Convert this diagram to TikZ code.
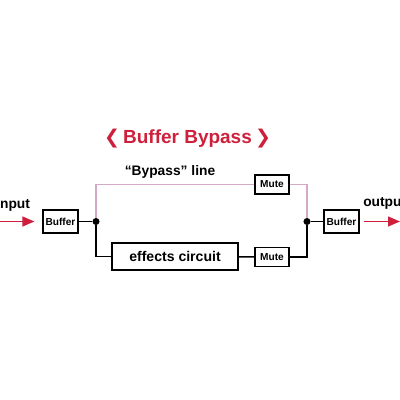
\documentclass[tikz,border=0pt]{standalone}
\usepackage{fontspec}
\setmainfont{Liberation Sans}
\newfontfamily\symfont{DejaVu Sans}
\usetikzlibrary{arrows.meta}
\definecolor{titlered}{RGB}{206,32,60}
\definecolor{bypasspink}{RGB}{214,168,200}
\tikzset{
dot/.style = {circle, fill, minimum size=#1,
              inner sep=0pt, outer sep=0pt},
dot/.default = 5pt % size of the junction dot
}
\tikzset{
box/.style = {rectangle, draw=black, line width=0.8pt, fill=white, inner sep=0pt,
              minimum width=#1, font=\bfseries\fontsize{7.2}{8}\selectfont},
box/.default = 24.9pt, % width of a buffer box
}
\tikzset{
tag/.style = {font=\bfseries\fontsize{9.8}{11}\selectfont},
wire/.style = {draw=black, line width=1pt},
sig/.style = {draw=titlered, line width=1.1pt, -{Triangle[length=8.5pt,width=7pt]}}
}

\begin{document}
\begin{tikzpicture}[x=0.025cm, y=-0.025cm]
    \useasboundingbox[fill=white] (0,0) rectangle (400,400);
    \node[font=\bfseries\fontsize{13.5}{15}\selectfont, text=titlered] (title) at (187.5,139) {{\symfont\bfseries ❮}\,Buffer Bypass\,{\symfont\bfseries ❯}};
    \node[tag] (bypassTxt) at (170,172) {“Bypass” line};
    \node[tag, anchor=west, inner sep=0pt] (inTxt) at (-4,205) {input};
    \node[tag, anchor=west, inner sep=0pt] (outTxt) at (363,203) {output};

    \node[box, minimum height=16.4pt] (bufIn) at (60.5,221.5) {Buffer};
    \node[box, minimum height=16.4pt] (bufOut) at (341.5,221.5) {Buffer};
    \node[box=24.2pt, minimum height=13.5pt] (muteTop) at (272,184.5) {Mute};
    \node[box=24.2pt, minimum height=13.5pt] (muteBot) at (272,257) {Mute};
    \node[box=89.6pt, minimum height=19.2pt, font=\bfseries\fontsize{10}{11}\selectfont] (fx) at (175,256.5) {effects circuit};
    \node[dot] (jIn) at (96,221.5) {};
    \node[dot] (jOut) at (307,221.5) {};
    \coordinate (start) at (0,221.5);
    \coordinate (end) at (400,221.5);

    \draw[sig, shorten >=5.7pt] (start) -- (bufIn);
    \draw[sig, shorten <=2.8pt] (bufOut) -- (end);

    \draw[draw=bypasspink, line width=0.9pt] (jIn) |- (muteTop);
    \draw[draw=bypasspink, line width=0.9pt] (muteTop) -| (jOut);
    \draw[wire] (bufIn) -- (jIn);
    \draw[wire] (jIn) |- (fx);
    \draw[wire] (fx) -- (muteBot);
    \draw[wire] (muteBot) -| (jOut);
    \draw[wire] (jOut) -- (bufOut);
\end{tikzpicture}
\end{document}
